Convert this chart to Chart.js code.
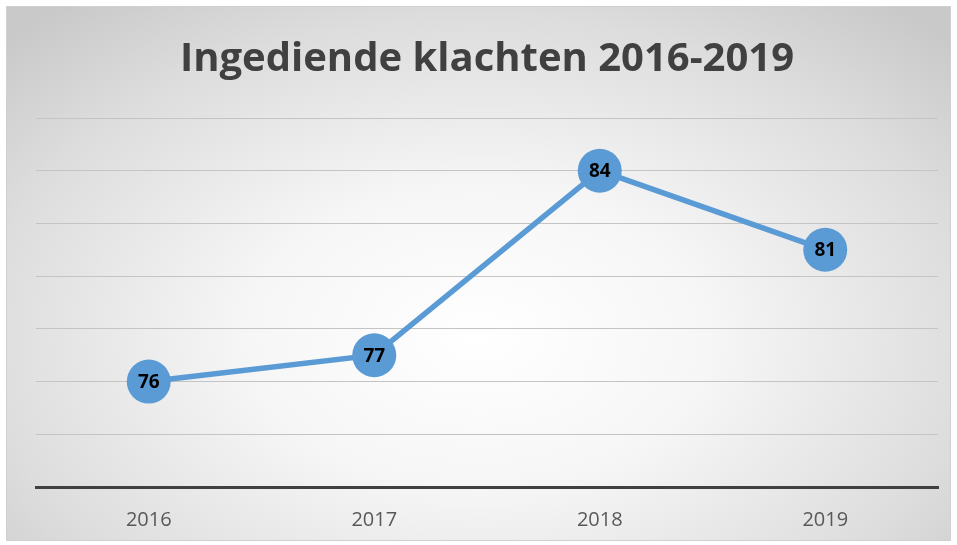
<!DOCTYPE html>
<html>
<head>
<meta charset="utf-8">
<script src="https://cdn.jsdelivr.net/npm/chart.js@4"></script>
<style>
  html, body { margin: 0; padding: 0; background: #fff; }
  #box {
    position: absolute; left: 6px; top: 6px; width: 943px; height: 533px;
    border: 1px solid #d0d0d0;
    background: radial-gradient(ellipse 70% 80% at 50% 62%, #ffffff 0%, #f6f6f6 35%, #dddddd 75%, #c9c9c9 100%);
  }
  canvas { display: block; }
</style>
</head>
<body>
<div id="box"><canvas id="lineChart" width="943" height="533"></canvas></div>
<script>
// Ingediende klachten per jaar
const years = ["2016", "2017", "2018", "2019"];
const complaints = [76, 77, 84, 81];
const yMin = 72;
const yMax = 86;
const yStep = 2;

// small inline plugin to write the value inside each point
const valueLabels = {
  id: "valueLabels",
  afterDatasetsDraw(chart) {
    const ctx = chart.ctx;
    const meta = chart.getDatasetMeta(0);
    ctx.save();
    ctx.font = "bold 19px 'Open Sans', sans-serif";
    ctx.fillStyle = "#000";
    ctx.textAlign = "center";
    ctx.textBaseline = "middle";
    meta.data.forEach((pt, i) => {
      ctx.fillText(chart.data.datasets[0].data[i], pt.x, pt.y + 1);
    });
    ctx.restore();
  },
};

const ctx = document.getElementById("lineChart").getContext("2d");
new Chart(ctx, {
  type: "line",
  data: {
    labels: years,
    datasets: [
      {
        label: "Klachten",
        data: complaints,
        borderColor: "#5B9BD5",
        backgroundColor: "#5B9BD5",
        borderWidth: 5.5,
        pointRadius: 22,
        pointHoverRadius: 22,
        pointBorderWidth: 0,
        tension: 0,
      },
    ],
  },
  options: {
    responsive: false,
    animation: false,
    layout: {
      autoPadding: false,
      padding: { left: 29, right: 12, top: 29, bottom: -5 },
    },
    plugins: {
      legend: { display: false },
      tooltip: { enabled: false },
      title: {
        display: true,
        text: "Ingediende klachten 2016-2019",
        color: "#404040",
        font: { family: "'Open Sans', sans-serif", size: 40, weight: "bold" },
        padding: { top: 0, bottom: 34 },
      },
    },
    scales: {
      x: {
        offset: true,
        grid: { display: false },
        border: { color: "#404040", width: 3 },
        ticks: {
          color: "#595959",
          font: { family: "'Open Sans', sans-serif", size: 20 },
          padding: 13,
        },
      },
      y: {
        min: yMin,
        max: yMax,
        ticks: { display: false, stepSize: yStep },
        border: { display: false },
        grid: { color: "#c4c4c4", lineWidth: 1, drawTicks: false },
      },
    },
  },
  plugins: [valueLabels],
});
</script>
</body>
</html>
